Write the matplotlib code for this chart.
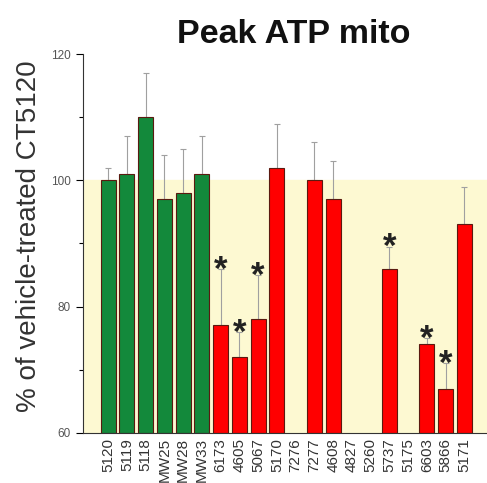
import matplotlib
matplotlib.use("Agg")
import matplotlib.pyplot as plt
import numpy as np

plt.rcParams["font.family"] = ["Liberation Sans", "DejaVu Sans"]

categories = ["5120", "5119", "5118", "MW25", "MW28", "MW33", "6173", "4605", "5067", "5170",
              "7276", "7277", "4608", "4827", "5260", "5737", "5175", "6603", "5866", "5171"]
values = [100, 101, 110, 97, 98, 101, 77, 72, 78, 102,
          np.nan, 100, 97, np.nan, np.nan, 86, np.nan, 74, 67, 93]
errors = [2, 6, 7, 7, 7, 6, 9, 4, 7, 7,
          np.nan, 6, 6, np.nan, np.nan, 3.5, np.nan, 1, 4, 6]
groups = ["ctrl"] * 6 + ["test"] * 14
significant = ["6173", "4605", "5067", "5737", "6603", "5866"]

colors = {"ctrl": "#13893b", "test": "#ff0000"}

fig = plt.figure(figsize=(4.87, 4.83), dpi=100)
ax = fig.add_axes([0.170, 0.104, 0.830, 0.784])

x = np.arange(len(categories))
ax.axhspan(60, 100, color="#fdf9d2", zorder=0)
for xi, v, e, g, c in zip(x, values, errors, groups, categories):
    if np.isnan(v):
        continue
    ax.bar(xi, v - 60, bottom=60, width=0.8, color=colors[g], edgecolor="#5a1a10",
           linewidth=0.8, zorder=2)
    ax.errorbar(xi, v, yerr=[[0], [e]], fmt="none", ecolor="#a0a0a0", elinewidth=0.8,
                capsize=2.5, capthick=0.8, zorder=1)
    if c in significant:
        ax.text(xi, v + e - 1.7, "*", ha="center", va="baseline", fontsize=25,
                fontweight="bold", color="#222222", zorder=3)

ax.set_xlim(-1.35, 20.2)
ax.set_ylim(60, 120)
ax.set_yticks([60, 80, 100, 120])
ax.set_yticks([70, 90, 110], minor=True)
ax.set_xticks(x)
ax.set_xticklabels(categories, rotation=90, fontsize=11, color="#333333")
ax.tick_params(axis="x", length=0, pad=4)
ax.tick_params(axis="y", which="major", length=5, width=0.8, labelsize=8.5, labelcolor="#555555")
ax.tick_params(axis="y", which="minor", length=3, width=0.8)
for s in ["top", "right"]:
    ax.spines[s].set_visible(False)
ax.spines["left"].set_color("#333333")
ax.spines["bottom"].set_color("#333333")
ax.set_ylabel("% of vehicle-treated CT5120", fontsize=20, color="#333333")
ax.yaxis.set_label_coords(-0.10, 0.52)
fig.text(0.604, 0.928, "Peak ATP mito", ha="center", va="center", fontsize=24.5,
         fontweight="bold", color="#111111")

fig.savefig("out.png", dpi=100)
